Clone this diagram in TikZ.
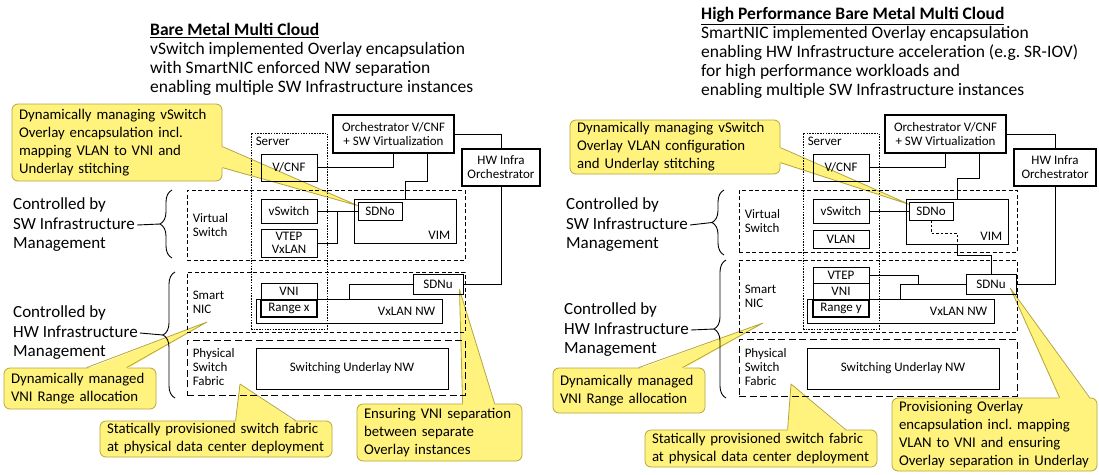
\documentclass[tikz,border=0pt]{standalone}
\usepackage{fontspec}
\setmainfont{Carlito}
\usetikzlibrary{calc,positioning,decorations.pathreplacing}
\definecolor{notebgc}{RGB}{255,243,125}
\definecolor{noteedgec}{RGB}{180,165,60}
\pgfdeclarelayer{background}
\pgfsetlayers{background,main}
\newcommand{\headfont}{\fontsize{17.5}{19}\selectfont}
\newcommand{\sidefont}{\fontsize{17}{19.5}\selectfont}
\newcommand{\notefont}{\fontsize{14.8}{18}\selectfont}
\newcommand{\boxfont}{\fontsize{13}{14}\selectfont}
\newcommand{\notewedge}[5]{%
  \fill[notebgc] ($(#1)+#2+#5$) -- #4 -- ($(#1)+#3+#5$) -- cycle;%
  \draw[noteedgec,line width=0.8pt,line join=round] ($(#1)+#2$) -- #4 -- ($(#1)+#3$);%
}

\begin{document}
\begin{tikzpicture}[x=1pt,y=-1pt,
  blk/.style={draw,line width=0.9pt,inner sep=1pt,font=\boxfont,align=center},
  heavy/.style={blk,line width=2.4pt},
  rangebox/.style={blk,line width=1.6pt},
  areabox/.style={draw,line width=0.9pt,dash pattern=on 4pt off 2.5pt,inner sep=0pt},
  fabricbox/.style={draw,line width=0.9pt,dash pattern=on 7pt off 3.5pt,inner sep=0pt},
  serverbox/.style={draw,line width=0.9pt,dash pattern=on 1.5pt off 1.2pt,inner sep=0pt},
  arealbl/.style={font=\boxfont,align=left,anchor=west,inner sep=0pt},
  wire/.style={line width=0.9pt},
  note/.style={fill=notebgc,draw=noteedgec,line width=0.8pt,rounded corners=6pt,font=\notefont,align=left,inner xsep=7pt,inner ysep=0pt},
  side/.style={font=\sidefont,align=left,anchor=west,inner sep=0pt},
  heading/.style={font=\headfont,align=left,anchor=north west,inner sep=0pt},
  curly/.style={decorate,decoration={brace,amplitude=12pt},line width=0.9pt}]
  \useasboundingbox (0,0) rectangle (1099,474);

  % left: bare metal
  \node[heading] (headL) at (150,23) {\textbf{\underline{Bare Metal Multi Cloud}}\\vSwitch implemented Overlay encapsulation\\with SmartNIC enforced NW separation\\enabling multiple SW Infrastructure instances};
  \node[heavy,minimum width=121pt,minimum height=38pt] (orchL) at (393.5,134) {Orchestrator V/CNF\\+ SW Virtualization};
  \node[heavy,minimum width=78pt,minimum height=37pt] (hwL) at (501,167.5) {HW Infra\\Orchestrator};
  \node[serverbox,minimum width=76pt,minimum height=196pt,label={[font=\boxfont,anchor=north west,inner xsep=5pt,inner ysep=4pt]north west:Server}] (serverL) at (289,231) {};
  \node[blk,minimum width=56pt,minimum height=27pt] (vcnfL) at (289,167.5) {V/CNF};
  \node[areabox,minimum width=278pt,minimum height=70pt] (vswL) at (326,225) {};
  \node[blk,minimum width=56pt,minimum height=24pt] (vswitchL) at (289,211) {vSwitch};
  \node[blk,minimum width=56pt,minimum height=28pt] (vtepL) at (289,243) {VTEP\\[-1pt]VxLAN};
  \node[blk,minimum width=102pt,minimum height=44pt,label={[font=\boxfont,anchor=south east,inner xsep=6pt,inner ysep=4pt]south east:VIM}] (vimL) at (405,221) {};
  \node[blk,minimum width=44pt,minimum height=18pt] (sdnoL) at (380,211) {SDNo};
  \node[areabox,minimum width=278pt,minimum height=60pt] (nicL) at (326,302) {};
  \node[blk,minimum width=50pt,minimum height=20pt] (sdnuL) at (438,284) {SDNu};
  \node[blk,minimum width=186pt,minimum height=24pt,label={[font=\boxfont,anchor=east,inner xsep=7pt]east:VxLAN NW}] (vxlanL) at (349,311) {};
  \node[blk,minimum width=56pt,minimum height=17pt] (vniL) at (289,291.5) {VNI};
  \node[rangebox,minimum width=56pt,minimum height=17pt] (rangeL) at (289,308.5) {Range x};
  \node[fabricbox,minimum width=278pt,minimum height=55pt] (pfL) at (326,367.5) {};
  \node[blk,minimum width=192pt,minimum height=41pt] (underlayL) at (352,368.5) {Switching Underlay NW};
  \node[arealbl] (vswTxtL) at ([xshift=6pt]vswL.west) {Virtual\\Switch};
  \node[arealbl] (nicTxtL) at ([xshift=6pt]nicL.west) {Smart\\NIC};
  \node[arealbl] (pfTxtL) at ([xshift=6pt]pfL.west) {Physical\\Switch\\Fabric};

  \draw[wire] (vcnfL.east) -| (orchL.south);
  \draw[wire] ([xshift=33.5pt]orchL.south) -- ++(0,27) -| (vimL.north);
  \draw[wire] (orchL.east) -| (hwL.north);
  \draw[wire] (hwL.south) |- (sdnuL.east);
  \draw[wire] (vswitchL.east) -- (sdnoL.west);
  \draw[wire] (vtepL.east) -| ($(vswitchL.east)!.5!(sdnoL.west)$);
  \draw[wire] (sdnuL.west) -| (vxlanL.north);

  \node[side] (swCtlL) at (13,225) {Controlled by\\SW Infrastructure\\Management};
  \node[side] (hwCtlL) at (13,333) {Controlled by\\HW Infrastructure\\Management};
  \draw[curly] (172,258) -- (172,190);
  \draw[curly] (175,398) -- (175,272);
  \coordinate (swTipL) at (160,224);
  \coordinate (hwTipL) at (163,335);
  \draw[wire] ([xshift=2pt]swCtlL.east) -- (swTipL);
  \draw[wire] ([xshift=2pt]hwCtlL.east) -- (hwTipL);

  % right: high performance bare metal
  \node[heading] (headR) at (701,7) {\textbf{\underline{High Performance Bare Metal Multi Cloud}}\\SmartNIC implemented Overlay encapsulation\\enabling HW Infrastructure acceleration (e.g.\ SR-IOV)\\for high performance workloads and\\enabling multiple SW Infrastructure instances};
  \node[heavy,minimum width=121pt,minimum height=38pt] (orchR) at (945.5,134) {Orchestrator V/CNF\\+ SW Virtualization};
  \node[heavy,minimum width=82pt,minimum height=37pt] (hwR) at (1055,167.5) {HW Infra\\Orchestrator};
  \node[serverbox,minimum width=76pt,minimum height=196pt,label={[font=\boxfont,anchor=north west,inner xsep=5pt,inner ysep=4pt]north west:Server}] (serverR) at (841,231) {};
  \node[blk,minimum width=56pt,minimum height=27pt] (vcnfR) at (841,167.5) {V/CNF};
  \node[areabox,minimum width=278pt,minimum height=62pt] (vswR) at (878,221) {};
  \node[blk,minimum width=56pt,minimum height=24pt] (vswitchR) at (841,211) {vSwitch};
  \node[blk,minimum width=56pt,minimum height=18pt] (vlanR) at (841,239) {VLAN};
  \node[blk,minimum width=102pt,minimum height=45pt,label={[font=\boxfont,anchor=south east,inner xsep=6pt,inner ysep=4pt]south east:VIM}] (vimR) at (957,221.5) {};
  \node[blk,minimum width=44pt,minimum height=18pt] (sdnoR) at (931,211) {SDNo};
  \node[areabox,minimum width=278pt,minimum height=72pt] (nicR) at (878,296) {};
  \node[blk,minimum width=50pt,minimum height=20pt] (sdnuR) at (991,284) {SDNu};
  \node[blk,minimum width=187pt,minimum height=24pt,label={[font=\boxfont,anchor=east,inner xsep=7pt]east:VxLAN NW}] (vxlanR) at (900.5,311) {};
  \node[blk,minimum width=56pt,minimum height=16pt] (vtepR) at (841,275) {VTEP};
  \node[blk,minimum width=56pt,minimum height=17pt] (vniR) at (841,291.5) {VNI};
  \node[rangebox,minimum width=56pt,minimum height=17pt] (rangeR) at (841,308.5) {Range y};
  \node[fabricbox,minimum width=278pt,minimum height=57pt] (pfR) at (878,367.5) {};
  \node[blk,minimum width=192pt,minimum height=41pt] (underlayR) at (903,368.5) {Switching Underlay NW};
  \node[arealbl] (vswTxtR) at ([xshift=6pt]vswR.west) {Virtual\\Switch};
  \node[arealbl] (nicTxtR) at ([xshift=6pt]nicR.west) {Smart\\NIC};
  \node[arealbl] (pfTxtR) at ([xshift=6pt]pfR.west) {Physical\\Switch\\Fabric};

  \draw[wire] (vcnfR.east) -| (orchR.south);
  \draw[wire] ([xshift=33.5pt]orchR.south) -- ++(0,24) -| (vimR.north);
  \draw[wire] (orchR.east) -| (hwR.north);
  \draw[wire] (hwR.south) |- (sdnuR.east);
  \draw[wire] (vswitchR.east) -- (sdnoR.west);
  \draw[wire,dash pattern=on 2.5pt off 2pt] (sdnoR.south) -- ++(0,13) -| (vimR.south);
  \draw[wire] (vimR.south) -- ++(0,11) -| (sdnuR.north);
  \draw[wire] (vtepR.east) -- ++(49,0) |- (sdnuR.west);
  \draw[wire] (sdnuR.west) -| (vxlanR.north);

  \node[side] (swCtlR) at (566,225) {Controlled by\\SW Infrastructure\\Management};
  \node[side] (hwCtlR) at (564,330) {Controlled by\\HW Infrastructure\\Management};
  \draw[curly] (724,255) -- (724,190);
  \draw[curly] (726,398) -- (726,260);
  \coordinate (swTipR) at (712,222.5);
  \coordinate (hwTipR) at (714,329);
  \draw[wire] ([xshift=2pt]swCtlR.east) -- (swTipR);
  \draw[wire] ([xshift=2pt]hwCtlR.east) -- (hwTipR);

  % yellow notes
  \coordinate (tipBL) at (207,322);
  \coordinate (tipCL) at (240,384);
  \coordinate (tipBR) at (763,323);
  \coordinate (tipCR) at (791,384);
  \begin{pgfonlayer}{background}
    \node[note,text width=196pt,minimum height=77pt] (noteAL) at (117,142.5) {Dynamically managing vSwitch\\Overlay encapsulation incl.\\mapping VLAN to VNI and\\Underlay stitching};
    \node[note,text width=138pt,minimum height=41pt] (noteBL) at (80,388.5) {Dynamically managed\\VNI Range allocation};
    \node[note,text width=218pt,minimum height=36pt] (noteCL) at (216,439) {Statically provisioned switch fabric\\at physical data center deployment};
    \node[note,text width=151pt,minimum height=57pt] (noteDL) at (439.5,432.5) {Ensuring VNI separation\\between separate\\Overlay instances};
    \notewedge{noteAL.north east}{(0,43)}{(0,64)}{($(sdnoL.north west)+(0,4)$)}{(-1.5,0)}
    \notewedge{noteBL.north west}{(83,0)}{(123,0)}{(tipBL)}{(0,1.5)}
    \notewedge{noteCL.north west}{(136,0)}{(196,0)}{(tipCL)}{(0,1.5)}
    \notewedge{noteDL.north west}{(106,0)}{(138,0)}{($(sdnuL.south east)+(-4,-5)$)}{(0,1.5)}

    \node[note,text width=196pt,minimum height=54pt] (noteAR) at (675,147) {Dynamically managing vSwitch\\Overlay VLAN configuration\\and Underlay stitching};
    \node[note,text width=138pt,minimum height=45pt] (noteBR) at (629,390.5) {Dynamically managed\\VNI Range allocation};
    \node[note,text width=218pt,minimum height=37pt] (noteCR) at (761,448.5) {Statically provisioned switch fabric\\at physical data center deployment};
    \node[note,text width=191pt,minimum height=73pt] (noteDR) at (994.5,434.5) {Provisioning Overlay\\encapsulation incl.\ mapping\\VLAN to VNI and ensuring\\Overlay separation in Underlay};
    \notewedge{noteAR.north east}{(0,28)}{(0,43)}{($(sdnoR.north west)+(1,3)$)}{(-1.5,0)}
    \notewedge{noteBR.north west}{(86,0)}{(130,0)}{(tipBR)}{(0,1.5)}
    \notewedge{noteCR.north west}{(143,0)}{(201,0)}{(tipCR)}{(0,1.5)}
    \notewedge{noteDR.north west}{(168,0)}{(198,0)}{($(sdnuR.south east)+(-6,-6)$)}{(0,1.5)}
  \end{pgfonlayer}
\end{tikzpicture}
\end{document}
